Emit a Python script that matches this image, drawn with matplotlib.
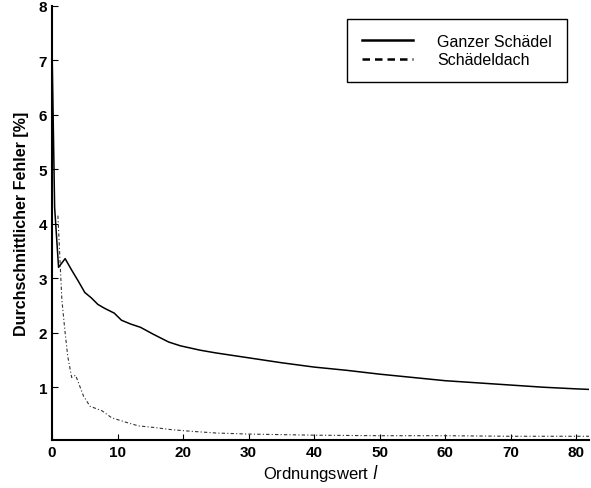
import numpy as np
import matplotlib
matplotlib.use("Agg")
import matplotlib.pyplot as plt
from matplotlib.lines import Line2D

# Ganzer Schädel (solid)
l_ganz = [0, 0.4, 1, 2, 3, 4, 5, 6, 7, 8, 9.5, 10.6, 12, 13.5, 15.5, 17.8, 19.6, 22.6,
          25, 30, 35, 40, 45, 50, 55, 60, 65, 70, 75, 80, 82]
f_ganz = [7.25, 4.3, 3.2, 3.36, 3.15, 2.95, 2.74, 2.64, 2.52, 2.45, 2.36, 2.23, 2.16, 2.1,
          1.97, 1.83, 1.76, 1.68, 1.63, 1.54, 1.45, 1.37, 1.31, 1.24, 1.18, 1.12, 1.08, 1.04,
          1.0, 0.97, 0.96]

# Schädeldach (dashed)
l_dach = [0.9, 1.5, 2, 2.4, 3, 3.6, 4.3, 4.8, 5.8, 7.6, 9.1, 11.2, 13.2, 15.7, 18.3,
          21.4, 25, 30, 40, 50, 60, 70, 82]
f_dach = [4.15, 2.61, 2.0, 1.57, 1.18, 1.22, 1.0, 0.84, 0.65, 0.57, 0.44, 0.36, 0.29,
          0.26, 0.22, 0.19, 0.16, 0.14, 0.12, 0.11, 0.11, 0.1, 0.1]

plt.rcParams['font.family'] = ['Liberation Sans', 'DejaVu Sans']

fig = plt.figure(figsize=(5.91, 4.89), dpi=100)
ax = fig.add_axes([0.088, 0.098, 0.909, 0.888])

ax.plot(l_ganz, f_ganz, color="black", lw=1.1)
ax.plot(l_dach, f_dach, color="#333333", lw=0.8, linestyle=(0, (3, 2, 1, 2)))

ax.set_xlim(0, 82)
ax.set_ylim(0.03, 8)
ax.set_xticks(range(0, 81, 10))
ax.set_yticks(range(1, 9))

for side in ("top", "right"):
    ax.spines[side].set_visible(False)
ax.spines["left"].set_linewidth(1.5)
ax.spines["bottom"].set_linewidth(1.5)
ax.tick_params(direction="in", length=4, width=0.8, labelsize=11)
for lab in ax.get_xticklabels() + ax.get_yticklabels():
    lab.set_fontweight("bold")

ax.set_xlabel("Ordnungswert $\\mathit{l}$", fontsize=12, labelpad=2)
ax.set_ylabel("Durchschnittlicher Fehler [%]", fontsize=11.5, fontweight="bold", labelpad=7)

handles = [Line2D([], [], color="black", lw=1.8),
           Line2D([], [], color="black", lw=1.8, linestyle=(0, (3, 2)))]
leg = ax.legend(handles, ["Ganzer Schädel", "Schädeldach"], loc="upper right",
                bbox_to_anchor=(0.959, 0.970), prop={"size": 11.5}, fancybox=False,
                edgecolor="black", framealpha=1, handlelength=3.2, handletextpad=1.5,
                borderpad=0.95, labelspacing=0.2, borderaxespad=0)
leg.get_frame().set_linewidth(1.0)

fig.savefig("out.png", dpi=100)
